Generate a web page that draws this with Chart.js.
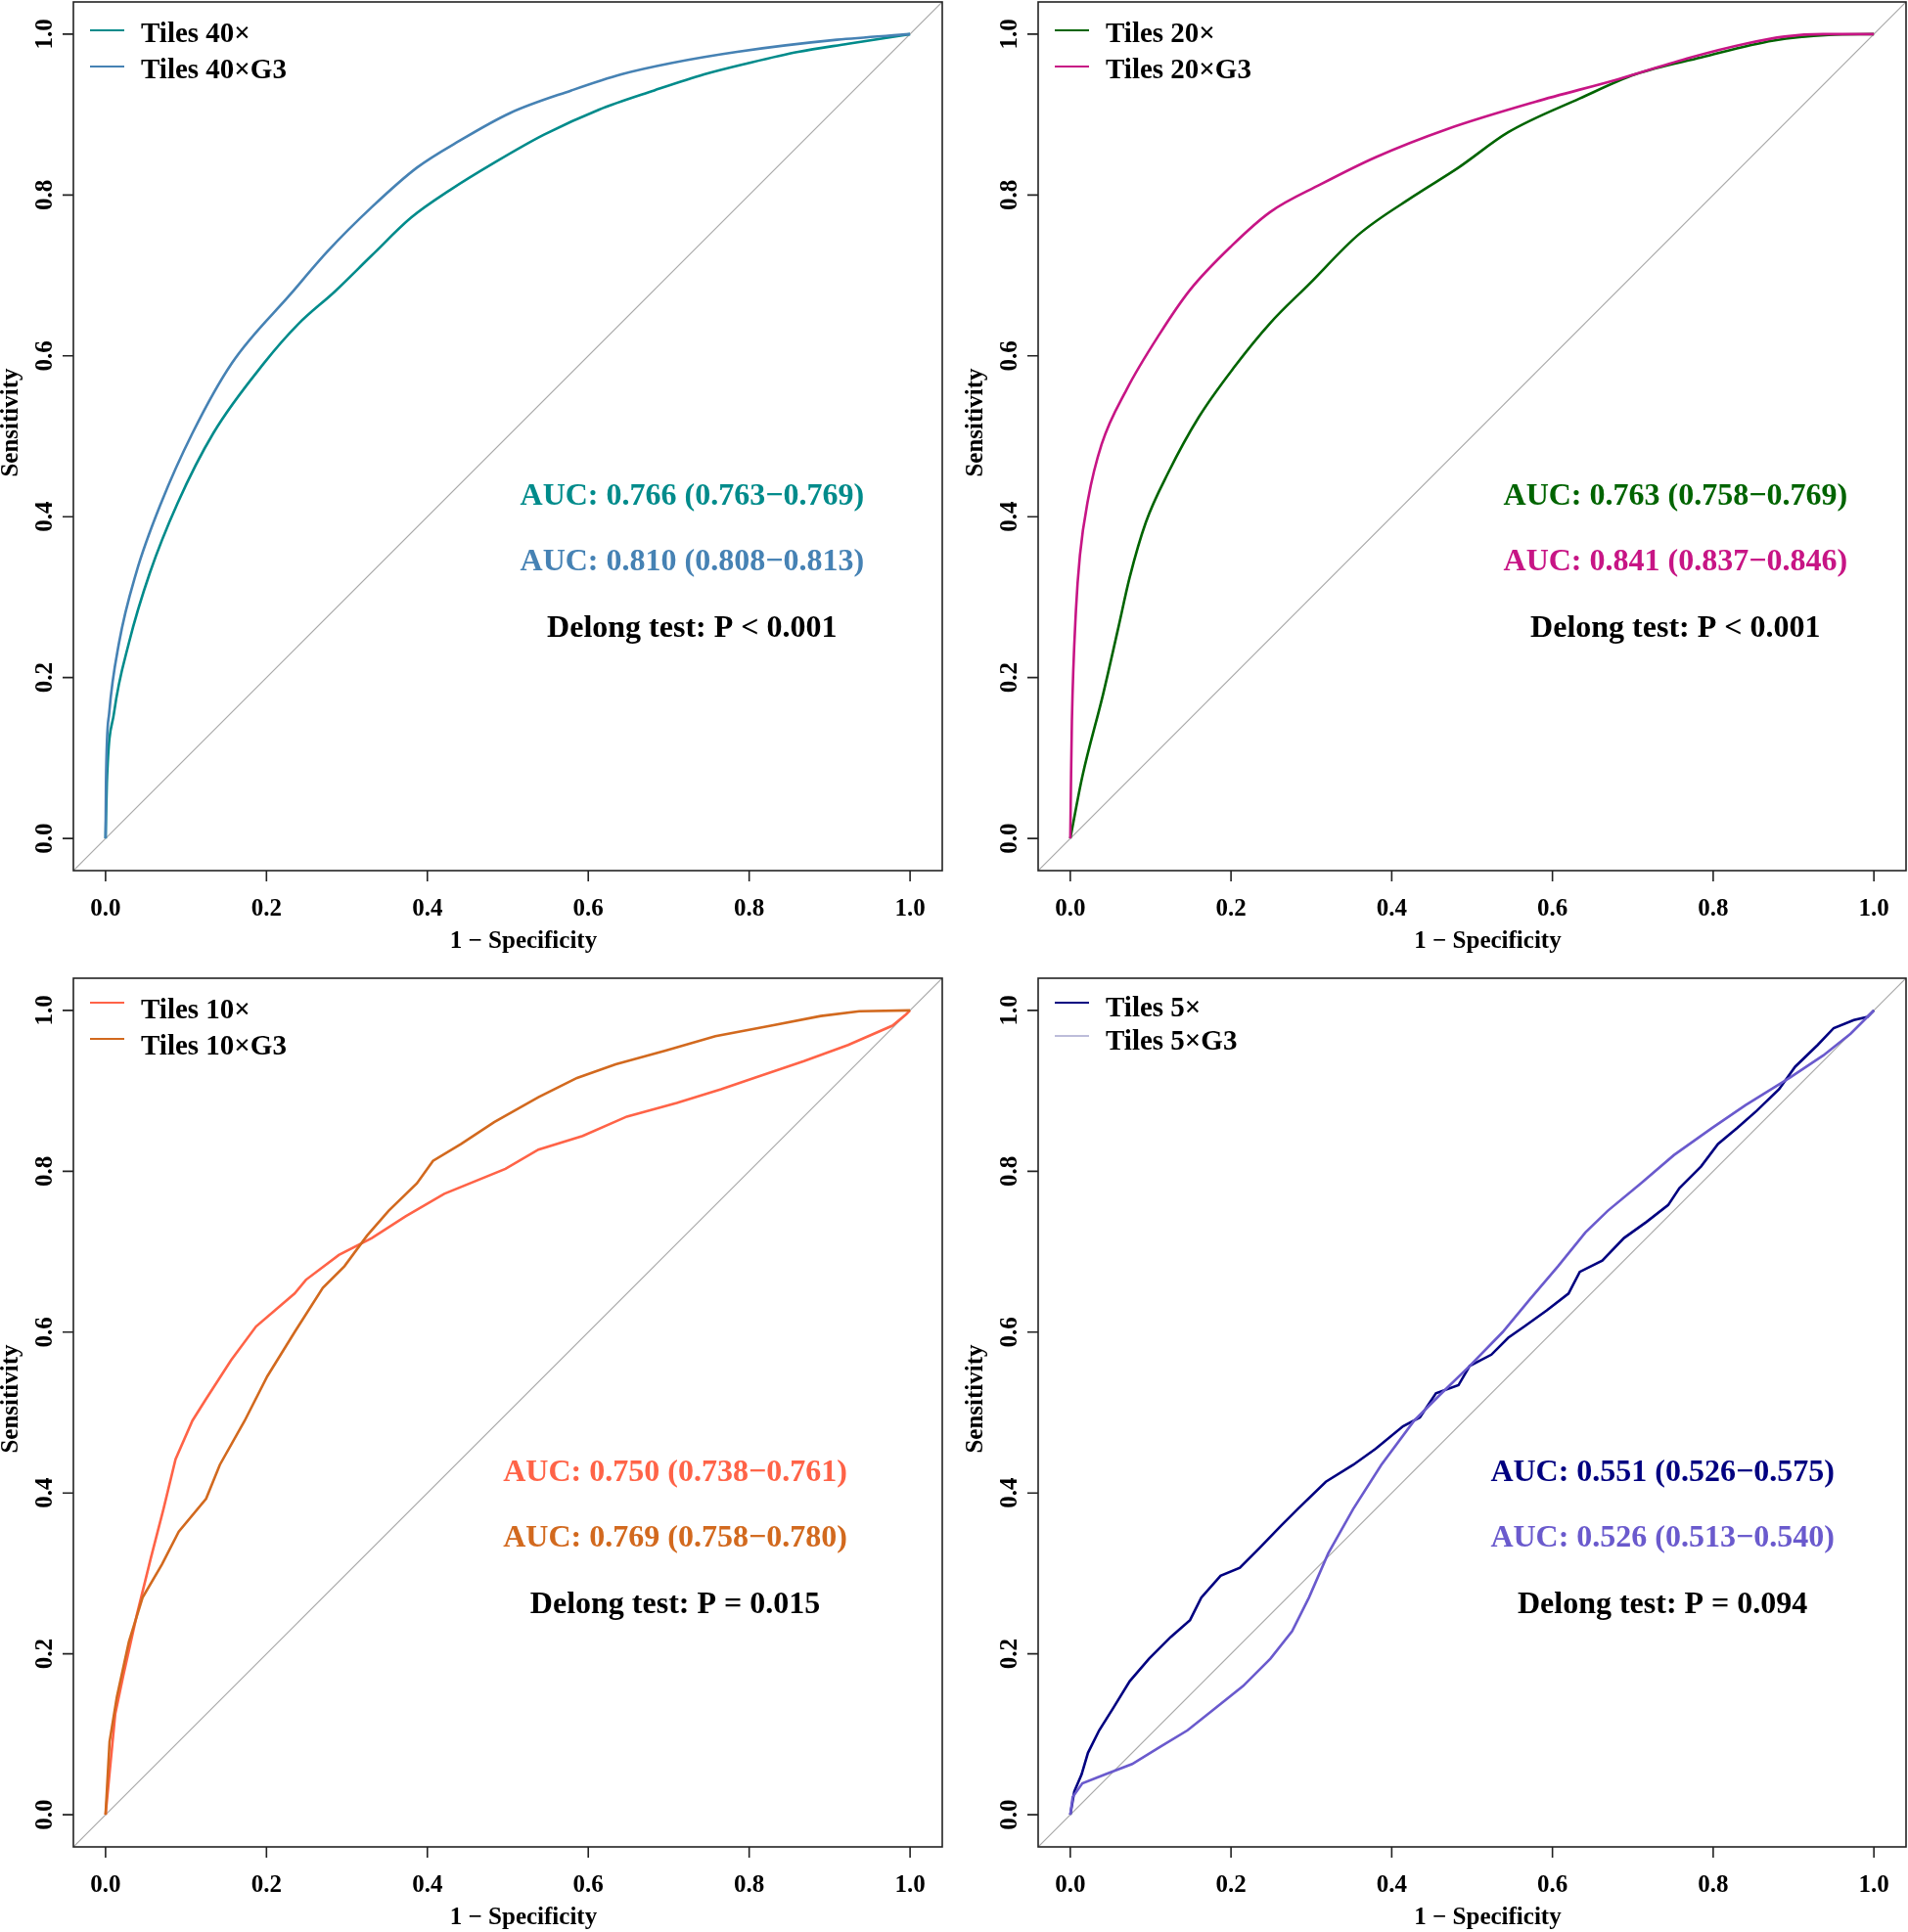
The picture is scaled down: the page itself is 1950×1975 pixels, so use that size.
<!DOCTYPE html>
<html>
<head>
<meta charset="utf-8">
<script src="https://cdn.jsdelivr.net/npm/chart.js@4.4.1/dist/chart.umd.min.js"></script>
<style>
  body { margin: 0; background: #fff; width: 1950px; height: 1975px; position: relative; overflow: hidden; }
  canvas { position: absolute; }
</style>
</head>
<body>
<canvas id="p40" width="980" height="990" style="left:0px;top:0px"></canvas>
<canvas id="p20" width="970" height="990" style="left:980px;top:0px"></canvas>
<canvas id="p10" width="980" height="985" style="left:0px;top:990px"></canvas>
<canvas id="p5" width="970" height="985" style="left:980px;top:990px"></canvas>
<script>
// ticks
var tickValores = [0, 0.2, 0.4, 0.6, 0.8, 1.0];
var tickTextos = ['0.0', '0.2', '0.4', '0.6', '0.8', '1.0'];
var diagonal = [-0.04, 1.04];

// Tiles 40x
var fpr40 = [0, 0.0016, 0.0105, 0.029, 0.055, 0.0896, 0.134, 0.197, 0.240, 0.285, 0.331, 0.380, 0.428, 0.483, 0.545, 0.613, 0.682, 0.744, 0.799, 0.861, 0.923, 1];
var tpr40 = [0, 0.069, 0.156, 0.243, 0.330, 0.417, 0.504, 0.591, 0.640, 0.680, 0.725, 0.772, 0.806, 0.840, 0.875, 0.906, 0.930, 0.950, 0.964, 0.978, 0.988, 1];
// Tiles 40xG3
var fpr40g3 = [0, 0.0005, 0.0045, 0.0167, 0.038, 0.069, 0.108, 0.157, 0.231, 0.276, 0.331, 0.387, 0.441, 0.503, 0.579, 0.641, 0.703, 0.785, 0.909, 1];
var tpr40g3 = [0, 0.069, 0.156, 0.243, 0.330, 0.417, 0.504, 0.591, 0.678, 0.730, 0.785, 0.834, 0.868, 0.902, 0.930, 0.950, 0.964, 0.978, 0.993, 1];

// Tiles 20x
var fpr20 = [0, 0.015, 0.041, 0.060, 0.074, 0.094, 0.122, 0.160, 0.204, 0.249, 0.297, 0.359, 0.428, 0.483, 0.545, 0.634, 0.703, 0.785, 0.875, 0.944, 1];
var tpr20 = [0, 0.077, 0.180, 0.263, 0.325, 0.393, 0.455, 0.524, 0.586, 0.641, 0.689, 0.751, 0.799, 0.834, 0.878, 0.920, 0.950, 0.971, 0.992, 0.999, 1];
// Tiles 20xG3
var fpr20g3 = [0, 0.001, 0.002, 0.007, 0.012, 0.022, 0.039, 0.070, 0.111, 0.149, 0.201, 0.249, 0.311, 0.380, 0.469, 0.579, 0.682, 0.772, 0.840, 0.889, 0.937, 1];
var tpr20g3 = [0, 0.080, 0.146, 0.283, 0.352, 0.421, 0.490, 0.558, 0.627, 0.682, 0.737, 0.779, 0.813, 0.847, 0.882, 0.916, 0.944, 0.971, 0.988, 0.997, 1.0, 1];

// Tiles 10x
var fpr10 = [0, 0.012, 0.022, 0.039, 0.056, 0.072, 0.087, 0.108, 0.125, 0.156, 0.187, 0.235, 0.249, 0.290, 0.331, 0.373, 0.421, 0.497, 0.538, 0.593, 0.648, 0.710, 0.765, 0.806, 0.868, 0.923, 0.978, 0.995, 1];
var tpr10 = [0, 0.125, 0.173, 0.249, 0.318, 0.380, 0.442, 0.490, 0.517, 0.565, 0.607, 0.648, 0.665, 0.696, 0.717, 0.744, 0.772, 0.803, 0.827, 0.844, 0.868, 0.885, 0.902, 0.916, 0.937, 0.957, 0.981, 0.995, 1];
// Tiles 10xG3
var fpr10g3 = [0, 0.005, 0.014, 0.029, 0.046, 0.070, 0.091, 0.125, 0.142, 0.173, 0.201, 0.235, 0.270, 0.297, 0.325, 0.352, 0.387, 0.407, 0.442, 0.483, 0.538, 0.586, 0.634, 0.696, 0.758, 0.827, 0.889, 0.937, 1];
var tpr10g3 = [0, 0.091, 0.146, 0.215, 0.270, 0.311, 0.352, 0.393, 0.435, 0.490, 0.545, 0.600, 0.655, 0.682, 0.720, 0.751, 0.785, 0.813, 0.834, 0.861, 0.892, 0.916, 0.933, 0.950, 0.968, 0.981, 0.993, 0.999, 1];

// Tiles 5x
var fpr5 = [0, 0.005, 0.014, 0.022, 0.036, 0.053, 0.074, 0.098, 0.125, 0.149, 0.163, 0.187, 0.211, 0.235, 0.262, 0.283, 0.318, 0.352, 0.380, 0.414, 0.435, 0.455, 0.483, 0.497, 0.524, 0.545, 0.565, 0.593, 0.620, 0.634, 0.662, 0.689, 0.717, 0.744, 0.758, 0.785, 0.806, 0.830, 0.854, 0.882, 0.902, 0.930, 0.950, 0.975, 0.992, 1];
var tpr5 = [0, 0.029, 0.050, 0.077, 0.105, 0.132, 0.166, 0.194, 0.221, 0.242, 0.270, 0.297, 0.307, 0.331, 0.359, 0.380, 0.414, 0.435, 0.455, 0.483, 0.494, 0.524, 0.534, 0.558, 0.572, 0.593, 0.607, 0.627, 0.648, 0.675, 0.689, 0.717, 0.737, 0.758, 0.779, 0.806, 0.834, 0.854, 0.875, 0.902, 0.930, 0.957, 0.978, 0.988, 0.992, 1];
// Tiles 5xG3
var fpr5g3 = [0, 0.003, 0.015, 0.043, 0.077, 0.111, 0.146, 0.180, 0.215, 0.249, 0.276, 0.297, 0.321, 0.352, 0.387, 0.428, 0.462, 0.497, 0.538, 0.572, 0.607, 0.641, 0.669, 0.710, 0.751, 0.799, 0.840, 0.895, 0.937, 0.971, 0.992, 1];
var tpr5g3 = [0, 0.022, 0.039, 0.050, 0.063, 0.084, 0.105, 0.132, 0.160, 0.194, 0.228, 0.270, 0.325, 0.380, 0.435, 0.490, 0.524, 0.558, 0.600, 0.641, 0.682, 0.724, 0.751, 0.785, 0.820, 0.854, 0.882, 0.916, 0.944, 0.971, 0.992, 1];

var fuente = '"Liberation Serif", "Times New Roman", serif';

function puntos(xs, ys) {
  return xs.map(function(x, i) { return { x: x, y: ys[i] }; });
}

function textoCentrado(ctx, txt, cx, cy, size, rotar) {
  ctx.save();
  ctx.font = 'bold ' + size + 'px ' + fuente;
  ctx.textAlign = 'center';
  ctx.textBaseline = 'alphabetic';
  ctx.translate(cx, cy);
  if (rotar) ctx.rotate(-Math.PI / 2);
  ctx.fillText(txt, 0, size * 0.33);
  ctx.restore();
}

var notaY = [0.428, 0.346, 0.263];

var marcoPlugin = {
  id: 'marco',
  afterDraw: function(chart) {
    var cfg = chart.options.plugins.marco;
    var ctx = chart.ctx, a = chart.chartArea;
    var sx = chart.scales.x, sy = chart.scales.y;
    ctx.save();
    ctx.strokeStyle = '#222';
    ctx.lineWidth = 1.6;
    ctx.strokeRect(a.left, a.top, a.right - a.left, a.bottom - a.top);

    ctx.beginPath();
    tickValores.forEach(function(v) {
      var px = sx.getPixelForValue(v);
      ctx.moveTo(px, a.bottom);
      ctx.lineTo(px, a.bottom + 11);
      var py = sy.getPixelForValue(v);
      ctx.moveTo(a.left, py);
      ctx.lineTo(a.left - 11, py);
    });
    ctx.stroke();

    ctx.fillStyle = '#000';
    tickValores.forEach(function(v, i) {
      textoCentrado(ctx, tickTextos[i], sx.getPixelForValue(v), a.bottom + 38, 25, false);
      textoCentrado(ctx, tickTextos[i], a.left - 30, sy.getPixelForValue(v), 25, true);
    });
    var cx = (a.left + a.right) / 2, cy = (a.top + a.bottom) / 2;
    textoCentrado(ctx, '1 \u2212 Specificity', cx + 16, a.bottom + 71, 25, false);
    textoCentrado(ctx, 'Sensitivity', a.left - 65, cy - 14, 25, true);

    // leyenda
    cfg.leyenda.forEach(function(item, i) {
      var y = a.top + cfg.filas[i];
      ctx.strokeStyle = item.color;
      ctx.lineWidth = 2;
      ctx.beginPath();
      ctx.moveTo(a.left + 17, y);
      ctx.lineTo(a.left + 52, y);
      ctx.stroke();
      ctx.fillStyle = '#000';
      ctx.font = 'bold 29px ' + fuente;
      ctx.textAlign = 'left';
      ctx.textBaseline = 'alphabetic';
      ctx.fillText(item.texto, a.left + 69, y + cfg.desfase + 29 * 0.33);
    });

    // textos AUC
    cfg.notas.forEach(function(n, i) {
      ctx.fillStyle = n.color;
      textoCentrado(ctx, n.texto, sx.getPixelForValue(cfg.notaX), sy.getPixelForValue(notaY[i]), 32, false);
    });
    ctx.restore();
  }
};

function crearPanel(id, padding, curvas, suave, leyenda, filas, desfase, notas, notaX) {
  var datasets = [{
    data: puntos(diagonal, diagonal),
    showLine: true,
    borderColor: '#A8A8A8',
    borderWidth: 1.2,
    pointRadius: 0,
    order: 3
  }];
  curvas.forEach(function(c, i) {
    datasets.push({
      label: c.label,
      data: puntos(c.x, c.y),
      showLine: true,
      borderColor: c.color,
      borderWidth: 2.6,
      pointRadius: 0,
      cubicInterpolationMode: suave ? 'monotone' : 'default',
      tension: 0,
      order: 2 - i
    });
  });
  new Chart(document.getElementById(id).getContext('2d'), {
    type: 'scatter',
    data: { datasets: datasets },
    options: {
      responsive: false,
      animation: false,
      devicePixelRatio: 1,
      layout: { padding: padding },
      scales: {
        x: { type: 'linear', min: -0.04, max: 1.04, display: false },
        y: { type: 'linear', min: -0.04, max: 1.04, display: false }
      },
      plugins: {
        legend: { display: false },
        tooltip: { enabled: false },
        marco: { leyenda: leyenda, filas: filas, desfase: desfase, notas: notas, notaX: notaX }
      }
    },
    plugins: [marcoPlugin]
  });
}

var cTeal = '#008B8B', cSteel = '#4682B4';
var cGreen = '#006400', cMagenta = '#C71585';
var cTomato = '#FF6347', cChoc = '#D2691E';
var cNavy = '#000080', cSlate = '#6A5ACD';

crearPanel('p40', { left: 75, right: 17, top: 2, bottom: 100 },
  [{ label: 'Tiles 40\u00d7', x: fpr40, y: tpr40, color: cTeal },
   { label: 'Tiles 40\u00d7G3', x: fpr40g3, y: tpr40g3, color: cSteel }], true,
  [{ texto: 'Tiles 40\u00d7', color: cTeal }, { texto: 'Tiles 40\u00d7G3', color: cSteel }],
  [29, 66], 2,
  [{ texto: 'AUC: 0.766 (0.763\u22120.769)', color: cTeal },
   { texto: 'AUC: 0.810 (0.808\u22120.813)', color: cSteel },
   { texto: 'Delong test: P < 0.001', color: '#000' }],
  0.729);

crearPanel('p20', { left: 81, right: 2, top: 2, bottom: 100 },
  [{ label: 'Tiles 20\u00d7', x: fpr20, y: tpr20, color: cGreen },
   { label: 'Tiles 20\u00d7G3', x: fpr20g3, y: tpr20g3, color: cMagenta }], true,
  [{ texto: 'Tiles 20\u00d7', color: cGreen }, { texto: 'Tiles 20\u00d7G3', color: cMagenta }],
  [29, 66], 2,
  [{ texto: 'AUC: 0.763 (0.758\u22120.769)', color: cGreen },
   { texto: 'AUC: 0.841 (0.837\u22120.846)', color: cMagenta },
   { texto: 'Delong test: P < 0.001', color: '#000' }],
  0.753);

crearPanel('p10', { left: 75, right: 17, top: 10, bottom: 87 },
  [{ label: 'Tiles 10\u00d7', x: fpr10, y: tpr10, color: cTomato },
   { label: 'Tiles 10\u00d7G3', x: fpr10g3, y: tpr10g3, color: cChoc }], false,
  [{ texto: 'Tiles 10\u00d7', color: cTomato }, { texto: 'Tiles 10\u00d7G3', color: cChoc }],
  [25, 62], 6,
  [{ texto: 'AUC: 0.750 (0.738\u22120.761)', color: cTomato },
   { texto: 'AUC: 0.769 (0.758\u22120.780)', color: cChoc },
   { texto: 'Delong test: P = 0.015', color: '#000' }],
  0.708);

crearPanel('p5', { left: 81, right: 2, top: 10, bottom: 87 },
  [{ label: 'Tiles 5\u00d7', x: fpr5, y: tpr5, color: cNavy },
   { label: 'Tiles 5\u00d7G3', x: fpr5g3, y: tpr5g3, color: cSlate }], false,
  [{ texto: 'Tiles 5\u00d7', color: cNavy }, { texto: 'Tiles 5\u00d7G3', color: '#BDBDDA' }],
  [25, 59], 4,
  [{ texto: 'AUC: 0.551 (0.526\u22120.575)', color: cNavy },
   { texto: 'AUC: 0.526 (0.513\u22120.540)', color: cSlate },
   { texto: 'Delong test: P = 0.094', color: '#000' }],
  0.737);
</script>
</body>
</html>
